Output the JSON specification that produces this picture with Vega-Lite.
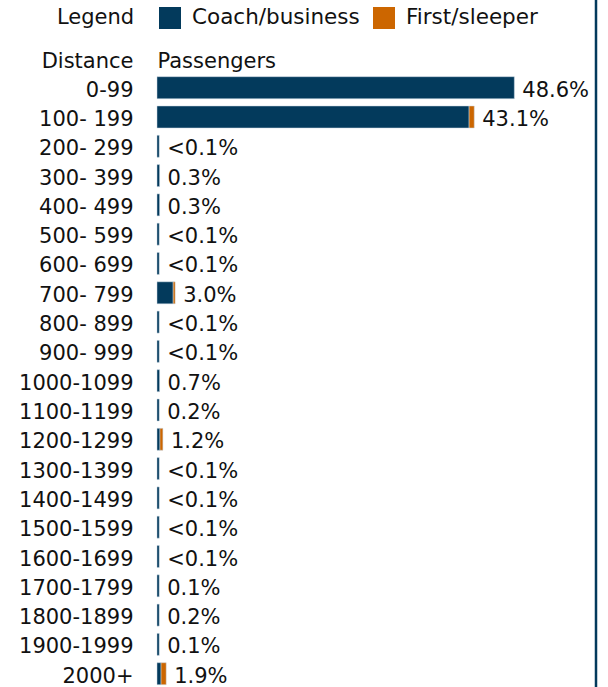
{
  "$schema": "https://vega.github.io/schema/vega-lite/v6.json",
  "width": 439,
  "height": 687,
  "autosize": {"type": "none"},
  "padding": {"left": 157, "top": 0, "right": 12, "bottom": 0},
  "background": "white",
  "config": {
    "font": "DejaVu Sans",
    "view": {"stroke": null},
    "axis": {"grid": false}
  },
  "data": {
    "values": [
      {"distance": "0-99", "class": "Coach/business", "value": 48.6, "label": "48.6%"},
      {"distance": "100- 199", "class": "Coach/business", "value": 42.45, "label": "43.1%"},
      {"distance": "100- 199", "class": "First/sleeper", "value": 0.7, "label": "43.1%"},
      {"distance": "200- 299", "class": "Coach/business", "value": 0.3, "label": "<0.1%"},
      {"distance": "300- 399", "class": "Coach/business", "value": 0.35, "label": "0.3%"},
      {"distance": "400- 499", "class": "Coach/business", "value": 0.35, "label": "0.3%"},
      {"distance": "500- 599", "class": "Coach/business", "value": 0.3, "label": "<0.1%"},
      {"distance": "600- 699", "class": "Coach/business", "value": 0.3, "label": "<0.1%"},
      {"distance": "700- 799", "class": "Coach/business", "value": 2.2, "label": "3.0%"},
      {"distance": "700- 799", "class": "First/sleeper", "value": 0.27, "label": "3.0%"},
      {"distance": "800- 899", "class": "Coach/business", "value": 0.3, "label": "<0.1%"},
      {"distance": "900- 999", "class": "Coach/business", "value": 0.3, "label": "<0.1%"},
      {"distance": "1000-1099", "class": "Coach/business", "value": 0.35, "label": "0.7%"},
      {"distance": "1100-1199", "class": "Coach/business", "value": 0.3, "label": "0.2%"},
      {"distance": "1200-1299", "class": "Coach/business", "value": 0.4, "label": "1.2%"},
      {"distance": "1200-1299", "class": "First/sleeper", "value": 0.4, "label": "1.2%"},
      {"distance": "1300-1399", "class": "Coach/business", "value": 0.3, "label": "<0.1%"},
      {"distance": "1400-1499", "class": "Coach/business", "value": 0.3, "label": "<0.1%"},
      {"distance": "1500-1599", "class": "Coach/business", "value": 0.3, "label": "<0.1%"},
      {"distance": "1600-1699", "class": "Coach/business", "value": 0.3, "label": "<0.1%"},
      {"distance": "1700-1799", "class": "Coach/business", "value": 0.3, "label": "0.1%"},
      {"distance": "1800-1899", "class": "Coach/business", "value": 0.3, "label": "0.2%"},
      {"distance": "1900-1999", "class": "Coach/business", "value": 0.3, "label": "0.1%"},
      {"distance": "2000+", "class": "Coach/business", "value": 0.55, "label": "1.9%"},
      {"distance": "2000+", "class": "First/sleeper", "value": 0.7, "label": "1.9%"}
    ]
  },
  "encoding": {
    "y": {
      "field": "distance",
      "type": "nominal",
      "sort": null,
      "scale": {"range": [76.7, 684.7], "paddingInner": 0.25, "paddingOuter": 0},
      "axis": {
        "title": "Distance",
        "titleAngle": 0,
        "titleAlign": "right",
        "titleBaseline": "alphabetic",
        "titleX": -24,
        "titleY": 67,
        "titleFontSize": 21,
        "titleFontWeight": "normal",
        "titleColor": "#111",
        "domain": false,
        "ticks": false,
        "labelPadding": 24,
        "labelOffset": 3,
        "labelFontSize": 21,
        "labelColor": "#111"
      }
    }
  },
  "layer": [
    {
      "mark": {"type": "bar", "stroke": "#c9d6e2", "strokeWidth": 0.5},
      "encoding": {
        "x": {
          "aggregate": "sum",
          "field": "value",
          "type": "quantitative",
          "stack": "zero",
          "scale": {"domain": [0, 59.71], "nice": false, "zero": true},
          "axis": {
            "orient": "top",
            "title": "Passengers",
            "titleX": 0,
            "titleY": 67,
            "titleAlign": "left",
            "titleBaseline": "alphabetic",
            "titleFontSize": 21,
            "titleFontWeight": "normal",
            "titleColor": "#111",
            "domain": false,
            "ticks": false,
            "labels": false,
            "grid": false
          }
        },
        "color": {
          "field": "class",
          "type": "nominal",
          "scale": {"domain": ["Coach/business", "First/sleeper"], "range": ["#033a5c", "#cc6600"]},
          "legend": {
            "title": "Legend",
            "orient": "none",
            "legendX": -100,
            "legendY": 7,
            "direction": "horizontal",
            "titleOrient": "left",
            "titleFontSize": 21,
            "titleFontWeight": "normal",
            "titleColor": "#111",
            "titlePadding": 24,
            "labelFontSize": 21.5,
            "labelColor": "#111",
            "labelLimit": 400,
            "labelOffset": 11,
            "columnPadding": 13,
            "symbolType": "square",
            "symbolSize": 484,
            "symbolStrokeWidth": 0,
            "symbolOpacity": 1
          }
        }
      }
    },
    {
      "mark": {"type": "text", "align": "left", "baseline": "middle", "dx": 8, "dy": 3, "fontSize": 21, "color": "#111"},
      "encoding": {
        "x": {"aggregate": "sum", "field": "value", "type": "quantitative"},
        "text": {"field": "label", "type": "nominal"}
      }
    },
    {
      "data": {"values": [{"edge": 59.71}]},
      "mark": {"type": "rule", "color": "#033a5c", "strokeWidth": 2.5},
      "encoding": {
        "x": {"field": "edge", "type": "quantitative"},
        "y": null
      }
    }
  ]
}
